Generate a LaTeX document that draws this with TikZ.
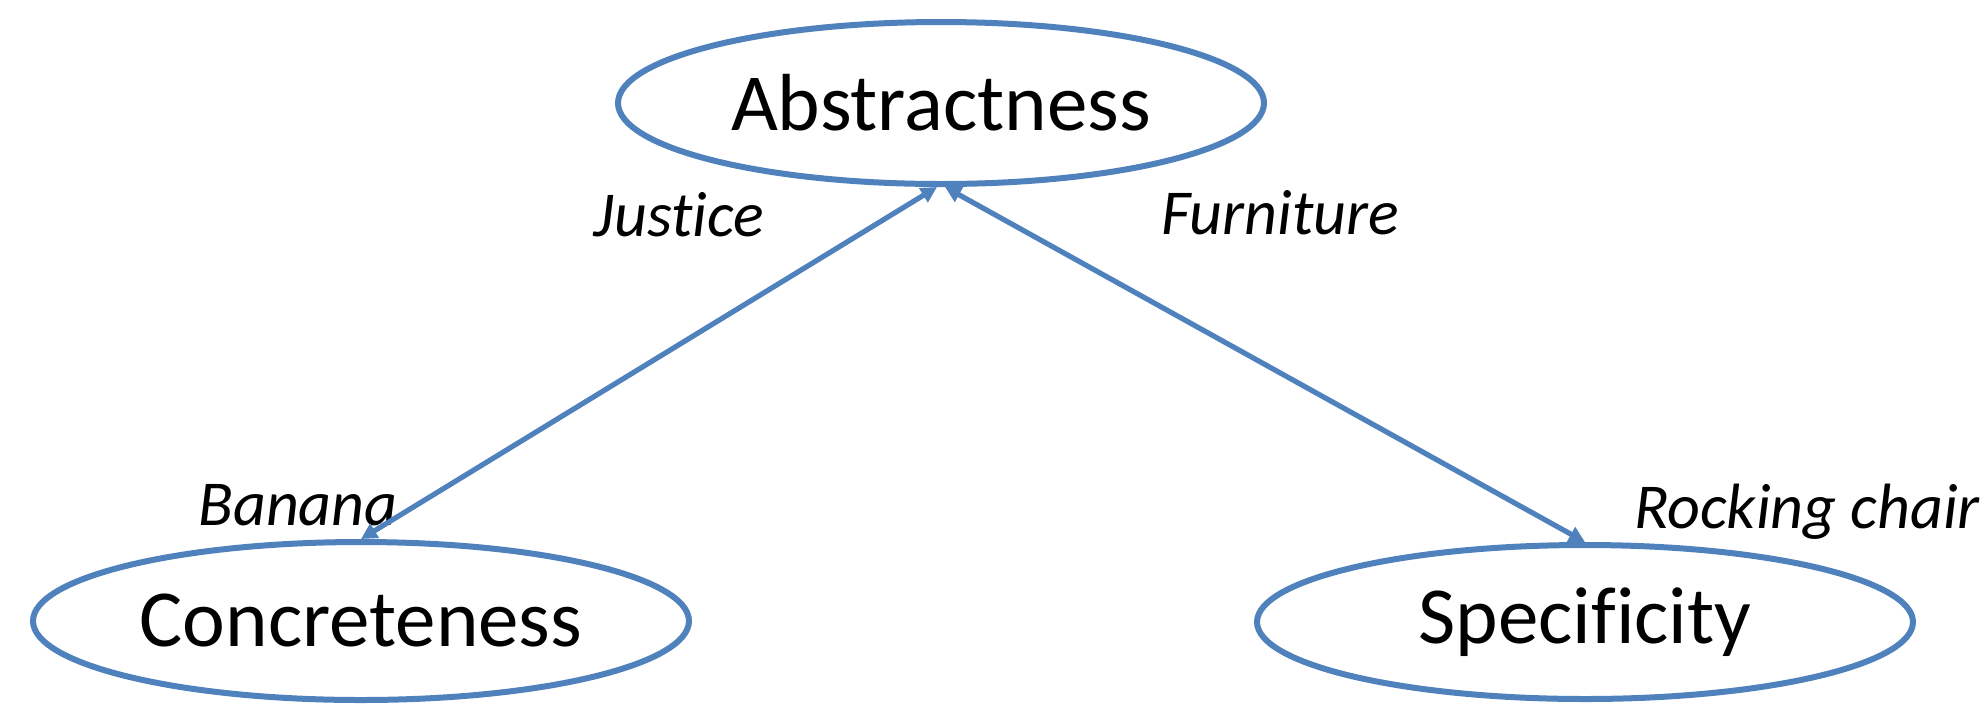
\documentclass[tikz,border=0pt]{standalone}
\usepackage{fontspec}
\setmainfont{Carlito}[RawFeature={-liga;-clig;-calt;-dlig}]
\usetikzlibrary{shapes.geometric,arrows.meta}
\definecolor{officeblue}{HTML}{4F81BD}
\tikzset{
  concept/.style={ellipse, draw=officeblue, line width=3pt, fill=white, inner sep=0pt,
    font=\fontsize{40.5}{48}\selectfont},
  example/.style={font=\fontsize{32}{38}\selectfont\itshape, inner sep=0pt},
  link/.style={officeblue, line width=2.6pt, {Triangle[length=8pt,width=8pt]}-{Triangle[length=8pt,width=8pt]}}
}
\begin{document}
\begin{tikzpicture}[x=0.5pt,y=-0.5pt]
\useasboundingbox (0,0) rectangle (1987,703);
\node[concept, minimum width=323pt, minimum height=81pt] (abs) at (941,103) {Abstractness};
\node[concept, minimum width=328pt, minimum height=79pt] (con) at (361,621) {Concreteness};
\node[concept, minimum width=328pt, minimum height=77pt] (spe) at (1585,622) {Specificity};
\node[example] (just) at (679,215) {Justice};
\node[example] (furn) at (1280,213) {Furniture};
\node[example] (ban) at (298,505) {Banana};
\node[example] (rock) at (1807,512) {Rocking chair};
\draw[link] (con.north) -- ([xshift=-2pt]abs.south);
\draw[link] ([xshift=2pt]abs.south) -- (spe.north);
\end{tikzpicture}
\end{document}
